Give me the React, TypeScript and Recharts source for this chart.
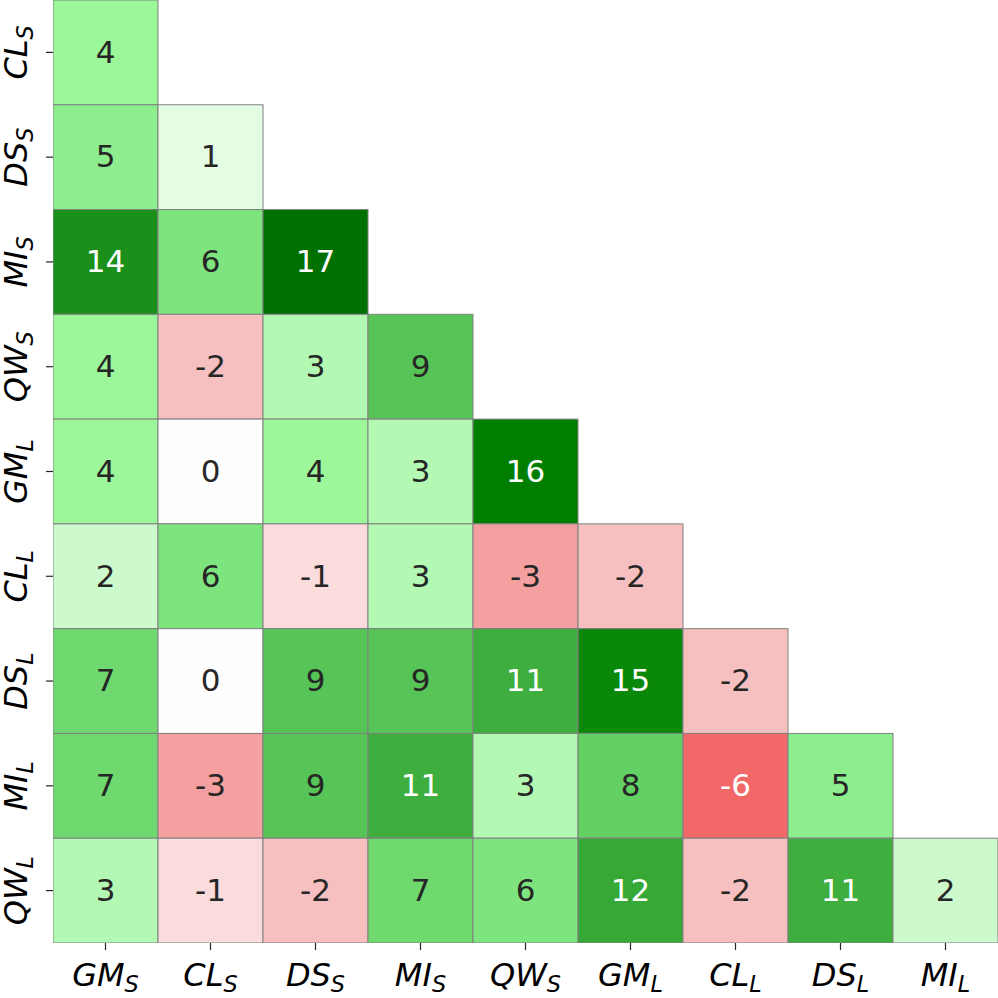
import { Scatter, ScatterChart, XAxis, YAxis } from "recharts";

// row / column labels, "_" separates the subscript
const rowLabels = ["CL_S", "DS_S", "MI_S", "QW_S", "GM_L", "CL_L", "DS_L", "MI_L", "QW_L"];
const colLabels = ["GM_S", "CL_S", "DS_S", "MI_S", "QW_S", "GM_L", "CL_L", "DS_L", "MI_L"];

// lower triangle, one list per row
const values: number[][] = [
  [4],
  [5, 1],
  [14, 6, 17],
  [4, -2, 3, 9],
  [4, 0, 4, 3, 16],
  [2, 6, -1, 3, -3, -2],
  [7, 0, 9, 9, 11, 15, -2],
  [7, -3, 9, 11, 3, 8, -6, 5],
  [3, -1, -2, 7, 6, 12, -2, 11, 2],
];

const W = 998;
const H = 998;
const Y_AXIS_W = 53;
const X_AXIS_H = 55;
const N = 9;
const CELL_W = (W - Y_AXIS_W) / N;
const CELL_H = (H - X_AXIS_H) / N;
const FONT = "'DejaVu Sans', sans-serif";
const LABEL_SIZE = 32;
const SUB_SIZE = 22.4;

// colormap stops (value -> colour), red below zero, greens above
const cmap: [number, string][] = [
  [-6, "#f26868"],
  [-3, "#f4a0a0"],
  [-2, "#f6c0c0"],
  [-1, "#fadcdc"],
  [0, "#fdfefd"],
  [1, "#e4fce4"],
  [2, "#ccfacc"],
  [3, "#b3f9b3"],
  [4, "#9cf79a"],
  [5, "#8cee8c"],
  [6, "#7ee47e"],
  [7, "#6fd86f"],
  [8, "#63d063"],
  [9, "#57c457"],
  [11, "#3eae3e"],
  [12, "#35a835"],
  [14, "#1a901a"],
  [15, "#0a880a"],
  [16, "#007e00"],
  [17, "#007000"],
];

const hexToRgb = (h: string) => [1, 3, 5].map((i) => parseInt(h.slice(i, i + 2), 16));

function colorFor(v: number) {
  if (v <= cmap[0][0]) return cmap[0][1];
  for (let i = 1; i < cmap.length; i++) {
    const [v1, c1] = cmap[i];
    if (v <= v1) {
      const [v0, c0] = cmap[i - 1];
      const t = (v - v0) / (v1 - v0);
      const a = hexToRgb(c0);
      const b = hexToRgb(c1);
      const m = a.map((x, k) => Math.round(x + (b[k] - x) * t));
      return `rgb(${m[0]},${m[1]},${m[2]})`;
    }
  }
  return cmap[cmap.length - 1][1];
}

// dark text on light cells, white on dark ones (luminance cut like seaborn)
function textColor(v: number) {
  const c = colorFor(v);
  const rgb = c.startsWith("#") ? hexToRgb(c) : c.slice(4, -1).split(",").map(Number);
  const lin = rgb.map((x) => {
    const s = x / 255;
    return s <= 0.03928 ? s / 12.92 : Math.pow((s + 0.055) / 1.055, 2.4);
  });
  const lum = 0.2126 * lin[0] + 0.7152 * lin[1] + 0.0722 * lin[2];
  return lum > 0.408 ? "#262626" : "#ffffff";
}

const cells = values.flatMap((row, r) => row.map((value, c) => ({ row: r, col: c, value })));

const HeatCell = (props: any) => {
  const { cx, cy, payload } = props;
  return (
    <g>
      <rect
        x={cx - CELL_W / 2}
        y={cy - CELL_H / 2}
        width={CELL_W}
        height={CELL_H}
        fill={colorFor(payload.value)}
        stroke="#808080"
        strokeWidth={1}
      />
      <text
        x={cx}
        y={cy}
        dy="0.33em"
        textAnchor="middle"
        fontSize={31}
        fontFamily={FONT}
        fill={textColor(payload.value)}
      >
        {payload.value}
      </text>
    </g>
  );
};

const XTick = ({ x, y, payload }: any) => {
  const [main, sub] = colLabels[payload.value].split("_");
  return (
    <text x={x} y={y + 34} textAnchor="middle" fontSize={LABEL_SIZE} fontStyle="italic" fontFamily={FONT} fill="#000">
      <tspan>{main}</tspan>
      <tspan dy={6} fontSize={SUB_SIZE}>
        {sub}
      </tspan>
    </text>
  );
};

const YTick = ({ x, y, payload }: any) => {
  const [main, sub] = rowLabels[payload.value].split("_");
  return (
    <g transform={`translate(${x - 17},${y}) rotate(-90)`}>
      <text x={0} y={0} textAnchor="middle" fontSize={LABEL_SIZE} fontStyle="italic" fontFamily={FONT} fill="#000">
        <tspan>{main}</tspan>
        <tspan dy={6} fontSize={SUB_SIZE}>
          {sub}
        </tspan>
      </text>
    </g>
  );
};

const ticks = [0, 1, 2, 3, 4, 5, 6, 7, 8];

export default function App() {
  return (
    <div style={{ position: "absolute", left: 0, top: 0, background: "#fff" }}>
      <ScatterChart width={W} height={H} margin={{ top: 0, right: 0, bottom: 0, left: 0 }}>
        <XAxis
          type="number"
          dataKey="col"
          domain={[-0.5, 8.5]}
          ticks={ticks}
          interval={0}
          height={X_AXIS_H}
          axisLine={false}
          tickSize={7}
          tickLine={{ stroke: "#262626", strokeWidth: 1.2 }}
          tick={<XTick />}
          allowDataOverflow
        />
        <YAxis
          type="number"
          dataKey="row"
          domain={[-0.5, 8.5]}
          ticks={ticks}
          interval={0}
          reversed
          width={Y_AXIS_W}
          axisLine={false}
          tickSize={7}
          tickLine={{ stroke: "#262626", strokeWidth: 1.2 }}
          tick={<YTick />}
          allowDataOverflow
        />
        <Scatter data={cells} shape={<HeatCell />} isAnimationActive={false} />
      </ScatterChart>
    </div>
  );
}
